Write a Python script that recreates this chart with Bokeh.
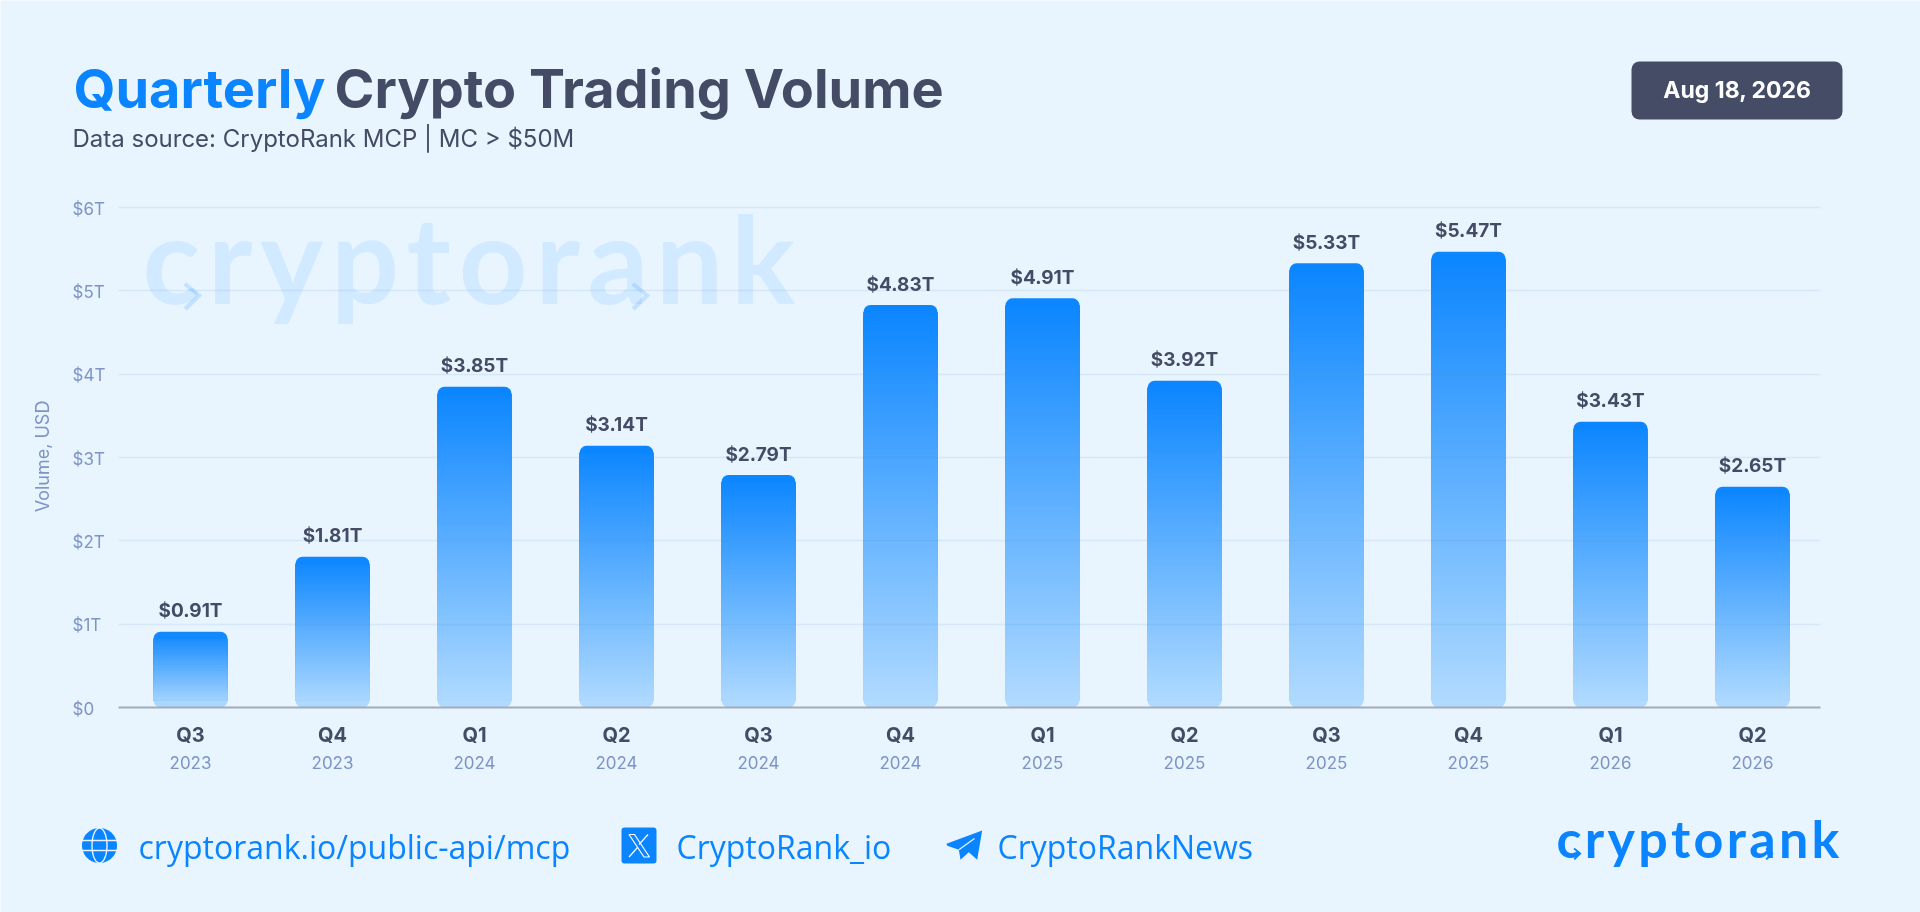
import numpy as np
from bokeh.core.properties import value
from bokeh.embed import file_html
from bokeh.models import (BoxAnnotation, ColumnDataSource, FixedTicker, Label, LabelSet,
                          LinearAxis, PolyAnnotation, Range1d)
from bokeh.plotting import figure
from bokeh.resources import INLINE

quarters = ["Q3", "Q4", "Q1", "Q2", "Q3", "Q4", "Q1", "Q2", "Q3", "Q4", "Q1", "Q2"]
years = ["2023", "2023", "2024", "2024", "2024", "2024", "2025", "2025", "2025", "2025", "2026", "2026"]
volumes = [0.91, 1.81, 3.85, 3.14, 2.79, 4.83, 4.91, 3.92, 5.33, 5.47, 3.43, 2.65]
value_labels = ["$0.91T", "$1.81T", "$3.85T", "$3.14T", "$2.79T", "$4.83T", "$4.91T", "$3.92T", "$5.33T", "$5.47T", "$3.43T", "$2.65T"]
y_ticks = [0, 1, 2, 3, 4, 5, 6]
y_tick_labels = ["$0", "$1T", "$2T", "$3T", "$4T", "$5T", "$6T"]

BG = "#E8F5FF"
BLUE = "#0A85FF"
DARK = "#444B64"
MUTED = "#7E93C6"
TOP = np.array([10, 133, 255])
BOTTOM = np.array([178, 219, 255])
LOGO = "\u200a".join("cryptorank")

xs = list(range(len(quarters)))
x_ticks = [float(i) for i in xs]
PX_Y = 500 / 6  # pixels per $1T

# ---- back layer: a frame over the whole page, for everything that lies outside the chart's frame
bg = figure(width=1920, height=912, output_backend="svg", toolbar_location=None,
            x_range=Range1d(0, 1920), y_range=Range1d(-205 / PX_Y, 6 + 207 / PX_Y),
            x_axis_location=None, y_axis_location=None, min_border=0,
            background_fill_color=BG, border_fill_color=BG, outline_line_color=None)
bg.grid.visible = False
bg.styles = {"position": "fixed", "left": "0", "top": "0"}

# ---- chart layer: transparent, with the real axes and bars
p = figure(width=1920, height=912, output_backend="svg", toolbar_location=None,
           x_range=Range1d(-72 / 142, 1630 / 142), y_range=Range1d(0, 6.024),
           min_border_left=118, min_border_right=100, min_border_top=205, min_border_bottom=205,
           background_fill_color=None, border_fill_color=None, outline_line_color=None)
p.styles = {"position": "fixed", "left": "0", "top": "0"}

p.xgrid.visible = False
p.ygrid.ticker = FixedTicker(ticks=y_ticks)
p.ygrid.grid_line_color = "#5A8FCB"
p.ygrid.grid_line_alpha = 0.13
p.ygrid.grid_line_width = 1.5
p.ygrid.level = "annotation"

ya = p.yaxis[0]
ya.ticker = FixedTicker(ticks=[])
ya.axis_line_color = None
ya.major_tick_line_color = None
ya.minor_tick_line_color = None
ya.axis_label = "Volume, USD"
ya.axis_label_text_font = "Inter"
ya.axis_label_text_font_size = "18px"
ya.axis_label_text_font_style = "normal"
ya.axis_label_text_color = MUTED
ya.axis_label_standoff = 66

xa = p.xaxis[0]
xa.ticker = FixedTicker(ticks=x_ticks)
xa.major_label_overrides = dict(zip(x_ticks, quarters))
xa.axis_line_color = "#A3ABB9"
xa.axis_line_width = 2
xa.major_tick_line_color = None
xa.minor_tick_line_color = None
xa.major_label_standoff = 9
xa.major_label_text_font = "Inter"
xa.major_label_text_font_style = "bold"
xa.major_label_text_font_size = "20px"
xa.major_label_text_color = DARK

xb = LinearAxis(ticker=FixedTicker(ticks=x_ticks), major_label_overrides=dict(zip(x_ticks, years)),
                axis_line_color=None, major_tick_line_color=None, minor_tick_line_color=None,
                major_label_standoff=0, major_label_text_font="Inter",
                major_label_text_font_size="17px", major_label_text_color=MUTED)
p.add_layout(xb, "below")

# gradient bars: each bar is a pile of slices, tallest first, each shorter one painted over the last
STEP = 0.036
CAP = 0.084  # the rounded ends, 7 px
W = 74 / 142
R = 7


def colour(frac):
    c = TOP + (BOTTOM - TOP) * frac
    return "#%02x%02x%02x" % tuple(int(round(v)) for v in c)


t_x, t_top, t_bot, t_c = [], [], [], []
m_x, m_top, m_bot, m_c = [], [], [], []
b_x, b_top, b_bot, b_c = [], [], [], []
for i, v in zip(xs, volumes):
    t_x.append(i); t_top.append(v); t_bot.append(v - 3 * CAP); t_c.append(colour(0.5 * CAP / v))
    b_x.append(i); b_top.append(3 * CAP); b_bot.append(0); b_c.append(colour(1 - 0.5 * CAP / v))
    for k in range(int((v - CAP) / STEP), 0, -1):
        m_x.append(i); m_top.append(k * STEP + CAP if k * STEP + CAP < v - CAP else v - CAP)
        m_bot.append(CAP); m_c.append(colour(1 - (k * STEP + CAP - STEP / 2) / v))

for sx, st, sb, sc, rad in ((t_x, t_top, t_bot, t_c, (R, R, 0, 0)), (b_x, b_top, b_bot, b_c, (0, 0, R, R)), (m_x, m_top, m_bot, m_c, 0)):
    p.vbar(x="x", top="top", bottom="bottom", width=W, fill_color="c", line_width=0, line_color=None,
           source=ColumnDataSource(dict(x=sx, top=st, bottom=sb, c=sc)), border_radius=rad)

p.text(x=xs, y=volumes, text=value_labels, text_font=value("Inter"), text_font_style="bold",
       text_font_size="19px", text_color=DARK, text_align="center", text_baseline="middle", y_offset=-21)

bg.add_layout(LabelSet(x=72, y="y", text="t", x_units="canvas", y_units="data",
                       source=ColumnDataSource(dict(y=y_ticks, t=y_tick_labels)), text_font=value("Inter"),
                       text_font_size="17px", text_color=MUTED, text_align="left", text_baseline="middle",
                       y_offset=-1))


def label(text, x, y, size, color, bold=False, font="Inter", align="left", baseline="middle", alpha=1.0):
    bg.add_layout(Label(text=text, x=x, y=y, x_units="canvas", y_units="canvas", text_font=font,
                        text_font_size=f"{size}px", text_color=color, text_alpha=alpha,
                        text_font_style="bold" if bold else "normal", text_align=align,
                        text_baseline=baseline))


def poly(xs_, ys_, fill=None, line=None, width=1.0, fill_alpha=1.0):
    bg.add_layout(PolyAnnotation(xs=list(xs_), ys=list(ys_), xs_units="canvas", ys_units="canvas",
                                 fill_color=fill, fill_alpha=fill_alpha if fill else 0,
                                 line_color=line, line_width=width, line_alpha=1 if line else 0))


def box(l, r, t, b, color, radius):
    bg.add_layout(BoxAnnotation(left=l, right=r, top=t, bottom=b, left_units="canvas", right_units="canvas",
                                top_units="canvas", bottom_units="canvas", fill_color=color, fill_alpha=1,
                                line_color=None, border_radius=radius))


def chevron(x0, y0, s, color, alpha):
    px = np.array([8, 56, 10, 0, 38, 0]) * s / 3 + x0
    py = np.array([2, 42, 87, 78, 42, 12]) * s / 3 + y0
    poly(px, py, fill=color, fill_alpha=alpha)


# watermark
label(LOGO, 142, 257, 120, BLUE, bold=True, font="Lato", baseline="alphabetic", alpha=0.10)
chevron(183, 281, 1, BLUE, 0.16)
chevron(631, 281, 1, BLUE, 0.16)

# header
label("Quarterly", 73, 88, 54, BLUE, bold=True)
label("Crypto Trading Volume", 334, 88, 54, DARK, bold=True)
label("Data source: CryptoRank MCP | MC > $50M", 72, 138, 24, DARK)
box(1631, 1842, 61, 119, "#454C65", 8)
label("Aug 18, 2026", 1737, 89, 23, "#FFFFFF", bold=True, align="center")

# footer
t = np.linspace(0, 2 * np.pi, 60)
poly(99 + 17.5 * np.cos(t), 845 + 17.5 * np.sin(t), fill=BLUE)
poly(99 + 7.5 * np.cos(t), 845 + 17.5 * np.sin(t), line=BG, width=1.4)
poly([81, 117], [840, 840], line=BG, width=1.4)
poly([81, 117], [850, 850], line=BG, width=1.4)
label("cryptorank.io/public-api/mcp", 138, 846, 32, BLUE, font="Open Sans")

box(621, 656, 827, 863, BLUE, 3)
poly([628.5, 634, 649, 643.5], [834, 834, 856.5, 856.5], line="#FFFFFF", width=1.2)
poly([647.5, 638.5], [834, 844], line="#FFFFFF", width=1.2)
poly([637, 628.5], [847, 856.5], line="#FFFFFF", width=1.2)
label("CryptoRank_io", 676, 846, 32, BLUE, font="Open Sans")

zx = np.array([1115, 1008, 1010, 1045, 1050, 1075, 1100]) / 3 + 610
zy = np.array([60, 100, 106, 118, 148, 125, 148]) / 3 + 810
poly(zx, zy, fill=BLUE)
poly(np.array([1045, 1092]) / 3 + 610, np.array([118, 84]) / 3 + 810, line=BG, width=1.2)
label("CryptoRankNews", 997, 846, 32, BLUE, font="Open Sans")

# logo
label(LOGO, 1556, 837, 52, BLUE, bold=True, font="Lato", baseline="alphabetic")
chevron(1573, 847, 0.43, BLUE, 1)
chevron(1765, 847, 0.43, BLUE, 1)

open("out.html", "w").write(file_html([bg, p], INLINE))
